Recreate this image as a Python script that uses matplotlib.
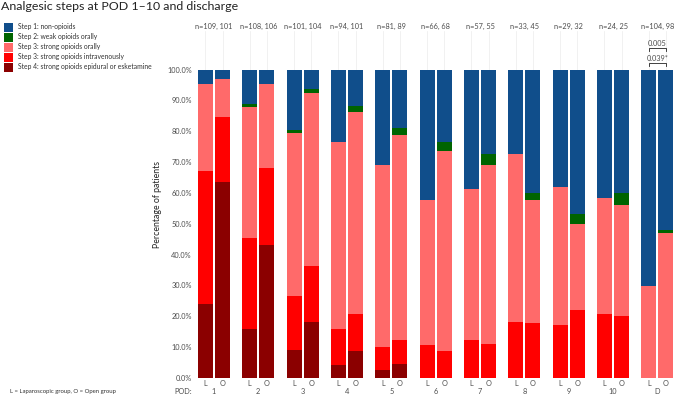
import matplotlib
matplotlib.use("Agg")
import matplotlib.pyplot as plt
from matplotlib.patches import Rectangle
import numpy as np

plt.rcParams['font.family'] = ['Lato', 'DejaVu Sans']

groups = ["1", "2", "3", "4", "5", "6", "7", "8", "9", "10", "D"]
n_labels = ["n=109, 101", "n=108, 106", "n=101, 104", "n=94, 101", "n=81, 89",
            "n=66, 68", "n=57, 55", "n=33, 45", "n=29, 32", "n=24, 25", "n=104, 98"]

series_names = ["Step 1: non-opioids",
                "Step 2: weak opioids orally",
                "Step 3: strong opioids orally",
                "Step 3: strong opioids intravenously",
                "Step 4: strong opioids epidural or esketamine"]
series_colors = ["#104E8B", "#006400", "#FF6A6A", "#FF0000", "#8B0000"]

# Laparoscopic group (L), percentages
step4_L = [23.9, 15.8, 9.1, 4.2, 2.5, 0, 0, 0, 0, 0, 0]
step3iv_L = [43.1, 29.7, 17.6, 11.8, 7.4, 10.6, 12.3, 18.2, 17.2, 20.8, 0]
step3oral_L = [28.4, 42.4, 52.6, 60.6, 59.2, 47.0, 49.1, 54.5, 44.8, 37.5, 29.8]
step2_L = [0, 0.9, 1.1, 0, 0, 0, 0, 0, 0, 0, 0]
step1_L = [4.6, 11.2, 19.6, 23.4, 30.9, 42.4, 38.6, 27.3, 38.0, 41.7, 70.2]

# Open group (O), percentages
step4_O = [63.4, 43.1, 18.2, 8.9, 4.5, 0, 0, 0, 0, 0, 0]
step3iv_O = [21.1, 25.1, 18.1, 11.7, 7.9, 8.8, 10.9, 17.8, 21.9, 20.0, 0]
step3oral_O = [12.6, 27.1, 56.0, 65.7, 66.3, 64.7, 58.2, 40.0, 28.1, 36.0, 46.9]
step2_O = [0, 0, 1.3, 1.9, 2.2, 2.9, 3.6, 2.2, 3.1, 4.0, 1.0]
step1_O = [2.9, 4.7, 6.4, 11.8, 19.1, 23.6, 27.3, 40.0, 46.9, 40.0, 52.1]

p_labels = ["0.005", "0.039*"]
p_levels = [107.0, 102.1]

W, H = 676, 396
fig = plt.figure(figsize=(W / 100, H / 100), dpi=100)
ax = fig.add_axes([194 / W, 18 / H, (W - 194) / W, 347 / H])

x = np.arange(len(groups))
off = 0.193
bw = 0.338
xL = x - off
xO = x + off

stack_L = [step4_L, step3iv_L, step3oral_L, step2_L, step1_L]
stack_O = [step4_O, step3iv_O, step3oral_O, step2_O, step1_O]
cols = series_colors[::-1]

for xs, stack in ((xL, stack_L), (xO, stack_O)):
    bottom = np.zeros(len(groups))
    for vals, c in zip(stack, cols):
        v = np.array(vals, dtype=float)
        ax.bar(xs, v, bw, bottom=bottom, color=c, linewidth=0, zorder=2)
        bottom += v

ax.set_xlim(-0.45, 10.42)
ax.set_ylim(0, 112.5)
for s in ax.spines.values():
    s.set_visible(False)

centers = np.sort(np.concatenate([xL, xO]))
ax.set_xticks(centers)
ax.set_xticklabels(["L", "O"] * len(groups))
ax.tick_params(axis='x', length=0, pad=1.5, labelsize=5.3, labelcolor='#4D4D4D')
ax.set_yticks(np.arange(0, 101, 10))
ax.set_yticklabels([f"{v:.1f}%" for v in np.arange(0, 101, 10)])
ax.tick_params(axis='y', length=0, pad=1.5, labelsize=5.3, labelcolor='#4D4D4D')
ax.grid(axis='x', color='#EBEBEB', lw=0.5, zorder=0)
ax.set_axisbelow(True)

ax.set_ylabel("Percentage of patients", fontsize=6.3, color='#222222', labelpad=4)

for xi, g in zip(x, groups):
    ax.annotate(g, xy=(xi, 0), xycoords=('data', 'axes fraction'),
                xytext=(0, -9.4), textcoords='offset points',
                ha='center', va='center', fontsize=5.3, color='#4D4D4D')
ax.annotate("POD:", xy=(0, 0), xycoords='axes fraction',
            xytext=(-1.6, -9.4), textcoords='offset points',
            ha='right', va='center', fontsize=5.3, color='#4D4D4D')

for xi, lab in zip(x, n_labels):
    ax.text(xi, 114.1, lab, ha='center', va='center', fontsize=5.3,
            color='#4D4D4D', clip_on=False)

# p-value brackets for discharge
d = len(groups) - 1
for lab, lev in zip(p_labels, p_levels):
    ax.plot([xL[d], xL[d], xO[d], xO[d]], [lev - 1.1, lev, lev, lev - 1.1],
            color='#222222', lw=0.6, clip_on=False, zorder=3)
    ax.text(x[d], lev + 1.6, lab, ha='center', va='center', fontsize=5.3,
            color='#4D4D4D', clip_on=False)

# Title
fig.text(1 / W, 1 - 9.8 / H, "Analgesic steps at POD 1\u201310 and discharge",
         ha='left', va='baseline', fontsize=8.9, color='#222222')

# Legend
for k, (name, c) in enumerate(zip(series_names, series_colors)):
    yc = 27 + 10 * k
    fig.add_artist(Rectangle((4 / W, 1 - (yc + 4.5) / H), 9 / W, 9 / H,
                             transform=fig.transFigure, color=c, lw=0))
    fig.text(18 / W, 1 - yc / H, name, ha='left', va='center',
             fontsize=4.9, color='#333333')

fig.text(10 / W, 1 - 391 / H, "L = Laparoscopic group, O = Open group",
         ha='left', va='center', fontsize=4.3, color='#333333')

fig.savefig("out.png", dpi=100)
